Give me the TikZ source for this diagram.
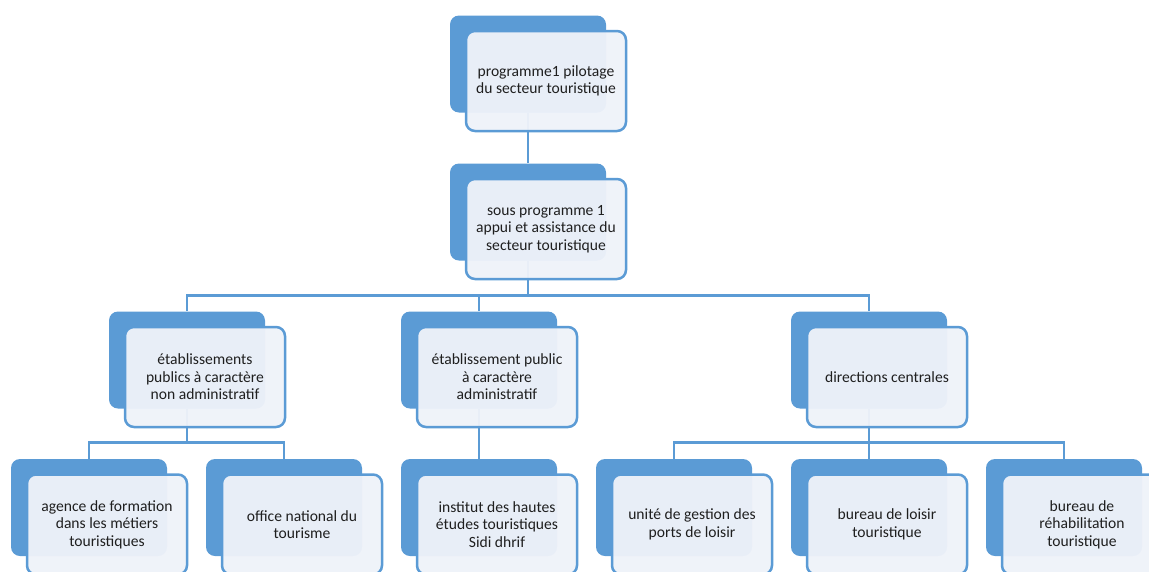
\documentclass[tikz,border=0pt]{standalone}
\usepackage{fontspec}
\setmainfont{Carlito}
\definecolor{orgblue}{HTML}{5B9BD5}
\definecolor{orgpale}{HTML}{EEF2F9}
\definecolor{orgtext}{HTML}{1F1F1F}

\begin{document}
\begin{tikzpicture}[x=1pt,y=-1pt,
  back/.style={shape=rectangle,rounded corners=9pt,fill=orgblue,minimum width=156pt,minimum height=97pt,inner sep=0pt},
  front/.style={shape=rectangle,rounded corners=9pt,draw=orgblue,line width=2.5pt,fill=orgpale,fill opacity=0.96,text opacity=1,text=orgtext,minimum width=160pt,minimum height=100pt,align=center,font=\fontsize{15.6}{17.5}\selectfont,inner sep=2pt},
  link/.style={draw=orgblue,line width=2.5pt},
  branch/.style={to path={(\tikztostart.south) -- ++(0,#1) -| (\tikztotarget.north)}}]
\useasboundingbox (0,0) rectangle (1149,571);
\clip (0,0) rectangle (1149,571);

\node[back] (prog-b) at (528,64) {};
\node[back] (sp-b) at (528,212) {};
\node[back] (epna-b) at (187,360) {};
\node[back] (epa-b) at (479,360) {};
\node[back] (dc-b) at (869,360) {};
\node[back] (agence-b) at (89,507.5) {};
\node[back] (onat-b) at (284,507.5) {};
\node[back] (ihet-b) at (479,507.5) {};
\node[back] (ugpl-b) at (674,507.5) {};
\node[back] (blt-b) at (869,507.5) {};
\node[back] (brt-b) at (1064,507.5) {};

\path [link] (prog-b) edge[branch=26] (sp-b);
\path [link] (sp-b) edge[branch=35] (epna-b);
\path [link] (sp-b) edge[branch=35] (epa-b);
\path [link] (sp-b) edge[branch=35] (dc-b);
\path [link] (epna-b) edge[branch=34] (agence-b);
\path [link] (epna-b) edge[branch=34] (onat-b);
\path [link] (epa-b) edge[branch=34] (ihet-b);
\path [link] (dc-b) edge[branch=34] (ugpl-b);
\path [link] (dc-b) edge[branch=34] (blt-b);
\path [link] (dc-b) edge[branch=34] (brt-b);

\node[front] (prog) at (546,81) {programme1 pilotage\\du secteur touristique};
\node[front] (sp) at (546,229) {sous programme 1\\appui et assistance du\\secteur touristique};
\node[front] (epna) at (205,377) {établissements\\publics à caractère\\non administratif};
\node[front] (epa) at (497,377) {établissement public\\à caractère\\administratif};
\node[front] (dc) at (887,377) {directions centrales};
\node[front] (agence) at (107,524.5) {agence de formation\\dans les métiers\\touristiques};
\node[front] (onat) at (302,524.5) {office national du\\tourisme};
\node[front] (ihet) at (497,524.5) {institut des hautes\\études touristiques\\Sidi dhrif};
\node[front] (ugpl) at (692,524.5) {unité de gestion des\\ports de loisir};
\node[front] (blt) at (887,524.5) {bureau de loisir\\touristique};
\node[front] (brt) at (1082,524.5) {bureau de\\réhabilitation\\touristique};
\end{tikzpicture}
\end{document}
